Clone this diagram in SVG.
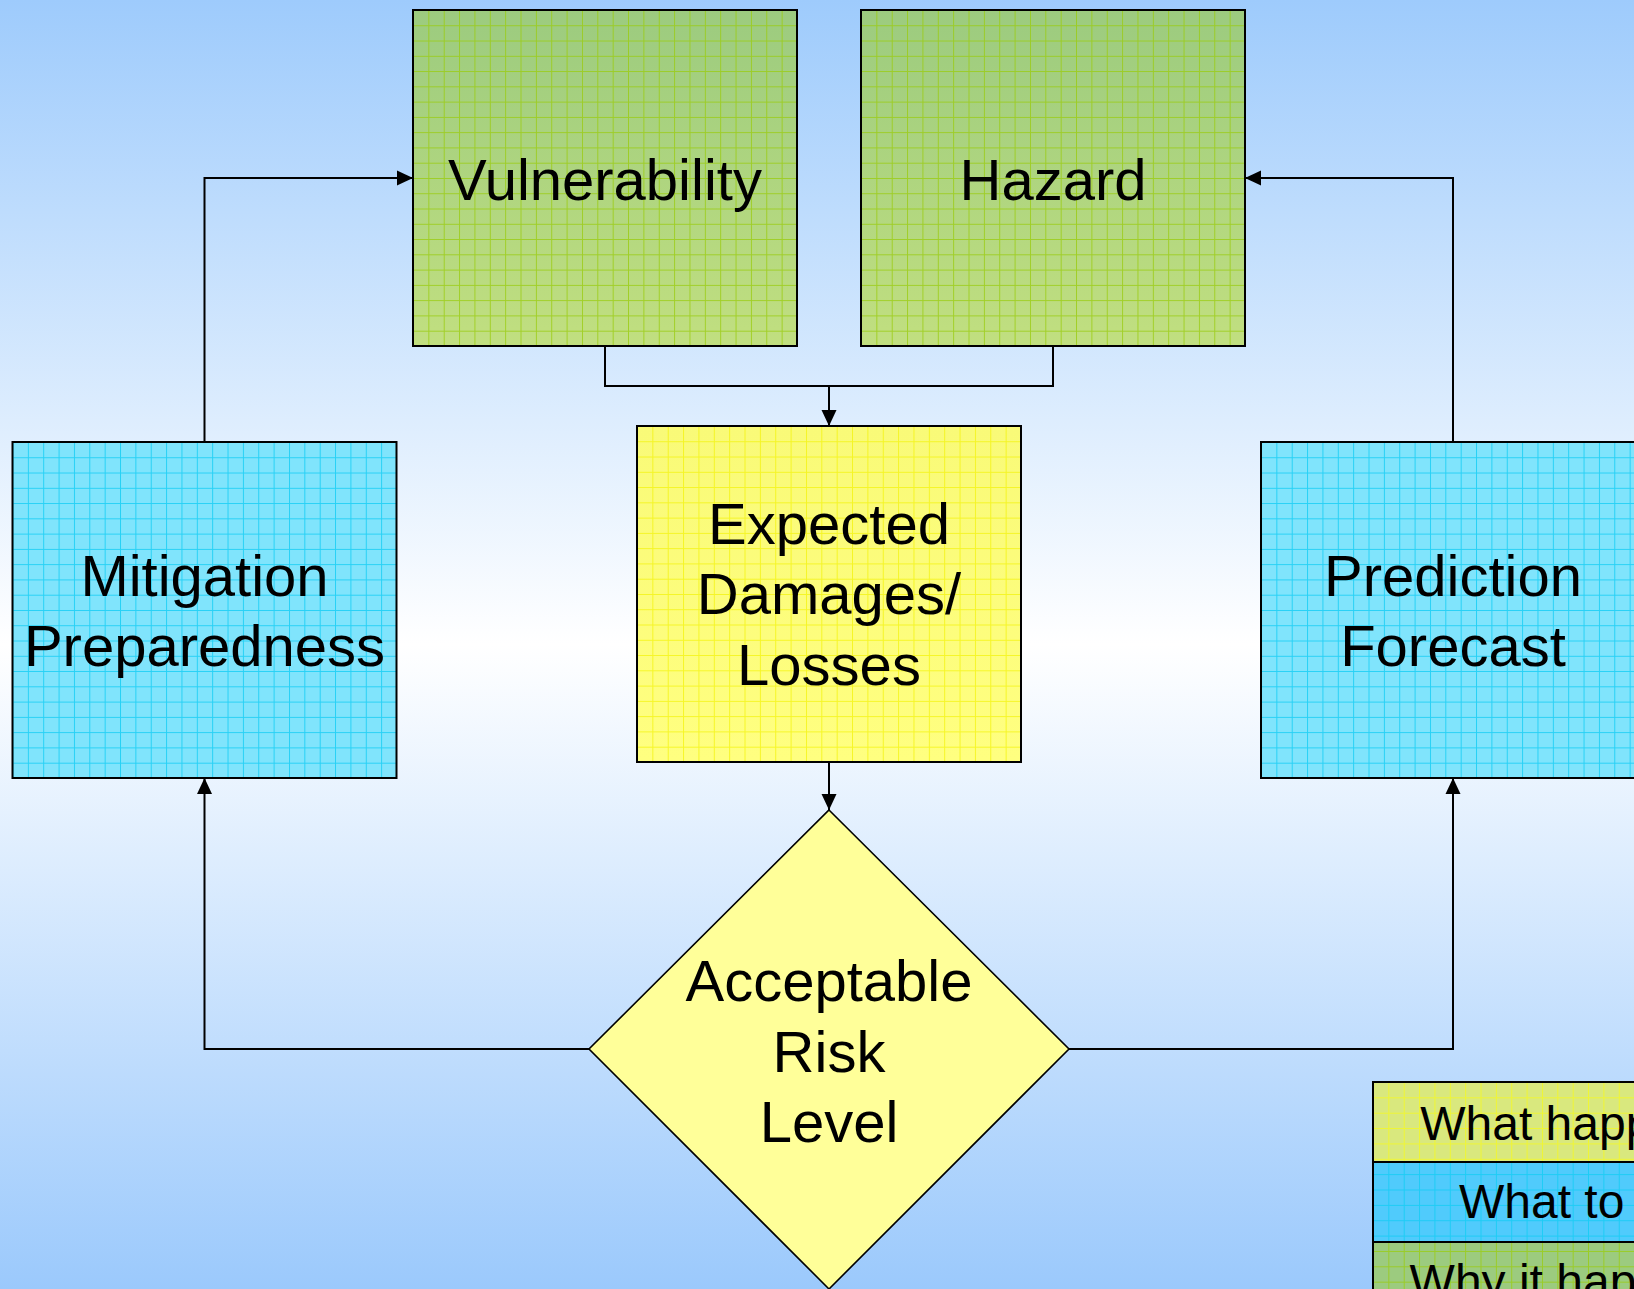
<svg xmlns="http://www.w3.org/2000/svg" width="1634" height="1289" viewBox="0 0 1634 1289">
<style>
.lbl{font-family:"Liberation Sans",Arial,sans-serif;font-size:58px;fill:#000;text-anchor:middle}
.leg{font-family:"Liberation Sans",Arial,sans-serif;font-size:48px;fill:#000;text-anchor:middle}
.bd{fill:none;stroke:#000;stroke-width:2}
.con{fill:none;stroke:#000;stroke-width:2}
</style>
<defs>
<linearGradient id="bg" x1="0" y1="0" x2="0" y2="1">
<stop offset="0" stop-color="#9ecbfc"/>
<stop offset="0.5" stop-color="#ffffff"/>
<stop offset="1" stop-color="#9bc9fc"/>
</linearGradient>
<linearGradient id="gG" x1="0" y1="0" x2="0" y2="1">
<stop offset="0" stop-color="#9ccb7f"/>
<stop offset="1" stop-color="#c1df80"/>
</linearGradient>
<linearGradient id="gY" x1="0" y1="0" x2="0" y2="1">
<stop offset="0" stop-color="#f9fa78"/>
<stop offset="1" stop-color="#ffff80"/>
</linearGradient>
<pattern id="pG" patternUnits="objectBoundingBox" width="0.04" height="0.04545">
<path d="M0.5 0 V16 M0 0.5 H16" stroke="#9acc10" stroke-width="1" opacity="0.8"/>
</pattern>
<pattern id="pY" patternUnits="objectBoundingBox" width="0.04" height="0.04545">
<path d="M0.5 0 V16 M0 0.5 H16" stroke="#f2f200" stroke-width="1" opacity="0.7"/>
</pattern>
<pattern id="pC" patternUnits="objectBoundingBox" width="0.04" height="0.04545">
<path d="M0.5 0 V16 M0 0.5 H16" stroke="#10ccf4" stroke-width="1" opacity="0.8"/>
</pattern>
<pattern id="pL" patternUnits="userSpaceOnUse" x="1373" y="1082" width="15.36" height="15.36">
<path d="M0.5 0 V16 M0 0.5 H16" stroke="#ffff00" stroke-width="1" opacity="0.6"/>
</pattern>
<pattern id="pLC" patternUnits="userSpaceOnUse" x="1373" y="1082" width="15.36" height="15.36">
<path d="M0.5 0 V16 M0 0.5 H16" stroke="#10ccf4" stroke-width="1" opacity="0.8"/>
</pattern>
<pattern id="pLG" patternUnits="userSpaceOnUse" x="1373" y="1082" width="15.36" height="15.36">
<path d="M0.5 0 V16 M0 0.5 H16" stroke="#9acc10" stroke-width="1" opacity="0.8"/>
</pattern>
<marker id="arr" viewBox="0 0 16 16" refX="16" refY="8" markerWidth="16" markerHeight="16" markerUnits="userSpaceOnUse" orient="auto">
<path d="M0 0.5 L16 8 L0 15.5 Z" fill="#000"/>
</marker>
</defs>
<rect x="0" y="0" width="1634" height="1289" fill="url(#bg)"/>
<g id="connectors">
<path class="con" d="M605 346 V386 H1053 V346"/>
<path class="con" d="M829 386 V426" marker-end="url(#arr)"/>
<path class="con" d="M829 762 V810" marker-end="url(#arr)"/>
<path class="con" d="M589 1049 H204.5 V778" marker-end="url(#arr)"/>
<path class="con" d="M1069 1049 H1453 V778" marker-end="url(#arr)"/>
<path class="con" d="M204.5 442 V178 H413" marker-end="url(#arr)"/>
<path class="con" d="M1453 442 V178 H1245" marker-end="url(#arr)"/>
</g>
<g id="vulnerability">
<rect x="413" y="10" width="384" height="336" fill="url(#gG)"/>
<rect x="413" y="10" width="384" height="336" fill="url(#pG)"/>
<rect class="bd" x="413" y="10" width="384" height="336"/>
<text class="lbl" x="605" y="200">Vulnerability</text>
</g>
<g id="hazard">
<rect x="861" y="10" width="384" height="336" fill="url(#gG)"/>
<rect x="861" y="10" width="384" height="336" fill="url(#pG)"/>
<rect class="bd" x="861" y="10" width="384" height="336"/>
<text class="lbl" x="1053" y="200">Hazard</text>
</g>
<g id="expected">
<rect x="637" y="426" width="384" height="336" fill="url(#gY)"/>
<rect x="637" y="426" width="384" height="336" fill="url(#pY)"/>
<rect class="bd" x="637" y="426" width="384" height="336"/>
<text class="lbl" x="829" y="544">Expected</text>
<text class="lbl" x="829" y="614">Damages/</text>
<text class="lbl" x="829" y="685">Losses</text>
</g>
<g id="mitigation">
<rect x="12.5" y="442" width="384" height="336" fill="#80e4fc"/>
<rect x="12.5" y="442" width="384" height="336" fill="url(#pC)"/>
<rect class="bd" x="12.5" y="442" width="384" height="336"/>
<text class="lbl" x="204.5" y="596">Mitigation</text>
<text class="lbl" x="204.5" y="666">Preparedness</text>
</g>
<g id="prediction">
<rect x="1261" y="442" width="384" height="336" fill="#80e4fc"/>
<rect x="1261" y="442" width="384" height="336" fill="url(#pC)"/>
<rect class="bd" x="1261" y="442" width="384" height="336"/>
<text class="lbl" x="1453" y="596">Prediction</text>
<text class="lbl" x="1453" y="666">Forecast</text>
</g>
<g id="acceptable">
<path d="M829 810 L1069 1049 L829 1289 L589 1049 Z" fill="#ffff99" stroke="#000" stroke-width="1.6"/>
<text class="lbl" x="829" y="1001">Acceptable</text>
<text class="lbl" x="829" y="1072">Risk</text>
<text class="lbl" x="829" y="1142">Level</text>
</g>
<g id="legend">
<rect x="1373" y="1082" width="404" height="80" fill="#d9e87e"/>
<rect x="1373" y="1082" width="404" height="80" fill="url(#pL)"/>
<rect x="1373" y="1162" width="404" height="80" fill="#50cbfc"/>
<rect x="1373" y="1162" width="404" height="80" fill="url(#pLC)"/>
<rect x="1373" y="1242" width="404" height="80" fill="#9ccb7f"/>
<rect x="1373" y="1242" width="404" height="80" fill="url(#pLG)"/>
<rect class="bd" x="1373" y="1082" width="404" height="80"/>
<rect class="bd" x="1373" y="1162" width="404" height="80"/>
<rect class="bd" x="1373" y="1242" width="404" height="80"/>
<text class="leg" x="1575" y="1140">What happens</text>
<text class="leg" x="1575" y="1218">What to do</text>
<text class="leg" x="1575" y="1298">Why it happens</text>
</g>
</svg>
